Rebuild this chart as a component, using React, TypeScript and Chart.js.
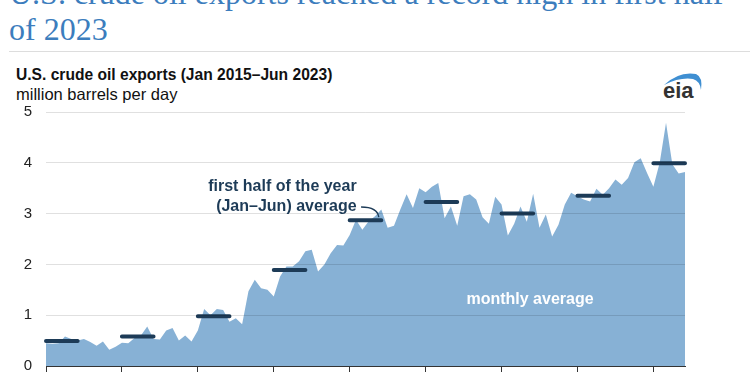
import React, { useEffect, useRef } from "react";
import { Chart, registerables } from "chart.js";

Chart.register(...registerables);

// ---------- data ----------
const YEARS = [2015, 2016, 2017, 2018, 2019, 2020, 2021, 2022, 2023];
const MONTHS = ["Jan", "Feb", "Mar", "Apr", "May", "Jun", "Jul", "Aug", "Sep", "Oct", "Nov", "Dec"];
const MONTHS_IN_LAST_YEAR = 6;

// monthly crude oil exports, million barrels per day (Jan 2015 – Jun 2023)
const EXPORTS_2015 = [0.45, 0.44, 0.45, 0.58, 0.53, 0.5, 0.53, 0.47, 0.4, 0.48, 0.32, 0.38];
const EXPORTS_2016 = [0.46, 0.45, 0.55, 0.6, 0.78, 0.53, 0.52, 0.7, 0.75, 0.5, 0.6, 0.48];
const EXPORTS_2017 = [0.7, 1.12, 1.0, 1.12, 1.1, 0.87, 0.94, 0.82, 1.47, 1.7, 1.53, 1.5];
const EXPORTS_2018 = [1.37, 1.76, 1.96, 1.96, 2.06, 2.26, 2.29, 1.86, 2.0, 2.22, 2.38, 2.37];
const EXPORTS_2019 = [2.58, 2.88, 2.68, 2.85, 2.95, 3.08, 2.72, 2.76, 3.08, 3.38, 3.11, 3.5];
const EXPORTS_2020 = [3.42, 3.53, 3.6, 2.91, 3.14, 2.76, 3.34, 3.38, 3.28, 2.93, 2.8, 3.33];
const EXPORTS_2021 = [3.18, 2.57, 2.8, 3.14, 2.84, 3.39, 2.72, 2.98, 2.55, 2.78, 3.18, 3.41];
const EXPORTS_2022 = [3.34, 3.28, 3.24, 3.49, 3.37, 3.5, 3.67, 3.57, 3.7, 4.01, 4.09, 3.8];
const EXPORTS_2023 = [3.53, 4.0, 4.79, 3.97, 3.79, 3.82];

// first half of the year (Jan–Jun) averages
const FIRST_HALF_AVG = [0.49, 0.58, 0.98, 1.89, 2.87, 3.23, 3.0, 3.35, 3.99];

const Y_TICKS = [0, 1, 2, 3, 4, 5];

const TITLE_LINE1 = "U.S. crude oil exports reached a record high in first half";
const TITLE_LINE2 = "of 2023";
const SUBTITLE = "U.S. crude oil exports (Jan 2015\u2013Jun 2023)";
const UNITS = "million barrels per day";
const NOTE_AVG_1 = "first half of the year";
const NOTE_AVG_2 = "(Jan\u2013Jun) average";
const NOTE_MONTHLY = "monthly average";

// ---------- derived tables ----------
const MONTHLY = [
  ...EXPORTS_2015, ...EXPORTS_2016, ...EXPORTS_2017, ...EXPORTS_2018, ...EXPORTS_2019,
  ...EXPORTS_2020, ...EXPORTS_2021, ...EXPORTS_2022, ...EXPORTS_2023,
];
const LABELS: string[] = [];
YEARS.forEach((yr, yi) => {
  const n = yi === YEARS.length - 1 ? MONTHS_IN_LAST_YEAR : 12;
  for (let m = 0; m < n; m++) LABELS.push(`${MONTHS[m]} ${yr}`);
});
const HALF_SERIES: (number | null)[] = LABELS.map((_, i) => {
  const yi = Math.floor(i / 12);
  return i % 12 < 6 ? FIRST_HALF_AVG[yi] : null;
});

const NAVY = "#1d3b57";
const AREA = "#87b1d5";
const SANS = "'Liberation Sans', Arial, sans-serif";

const annotationPlugin = {
  id: "annotations",
  afterDraw(chart: any) {
    const { ctx } = chart;
    const x = chart.scales.x;
    const y = chart.scales.y;
    ctx.save();
    // first-half label
    ctx.fillStyle = NAVY;
    ctx.font = `bold 16px ${SANS}`;
    ctx.textAlign = "right";
    ctx.textBaseline = "middle";
    const lx = x.getPixelForValue(49.1);
    ctx.fillText(NOTE_AVG_1, lx, y.getPixelForValue(3.54));
    ctx.fillText(NOTE_AVG_2, lx, y.getPixelForValue(3.13));
    // curved pointer
    ctx.strokeStyle = NAVY;
    ctx.lineWidth = 1.3;
    ctx.beginPath();
    ctx.moveTo(x.getPixelForValue(49.8), y.getPixelForValue(3.13));
    ctx.quadraticCurveTo(
      x.getPixelForValue(52.4), y.getPixelForValue(3.13),
      x.getPixelForValue(52.6), y.getPixelForValue(2.93)
    );
    ctx.stroke();
    // monthly label
    ctx.fillStyle = "#ffffff";
    ctx.font = `bold 16px ${SANS}`;
    ctx.textAlign = "center";
    ctx.fillText(NOTE_MONTHLY, x.getPixelForValue(76.5), y.getPixelForValue(1.3));
    ctx.restore();
  },
};

export default function App() {
  const ref = useRef<HTMLCanvasElement | null>(null);

  useEffect(() => {
    if (!ref.current) return;
    const chart = new Chart(ref.current, {
      type: "line",
      data: {
        labels: LABELS,
        datasets: [
          {
            label: "first half average",
            data: HALF_SERIES,
            borderColor: NAVY,
            borderWidth: 4,
            borderCapStyle: "round",
            pointRadius: 0,
            spanGaps: false,
            fill: false,
          },
          {
            label: "monthly",
            data: MONTHLY,
            borderWidth: 0,
            borderColor: AREA,
            backgroundColor: AREA,
            pointRadius: 0,
            tension: 0,
            fill: "origin",
          },
        ],
      },
      options: {
        animation: false,
        responsive: false,
        maintainAspectRatio: false,
        devicePixelRatio: 1,
        layout: { padding: { top: 112, right: 65, left: 0, bottom: 0 } },
        plugins: { legend: { display: false }, tooltip: { enabled: false } },
        scales: {
          x: {
            type: "category",
            offset: false,
            ticks: { display: false, autoSkip: false },
            grid: {
              display: true,
              drawOnChartArea: false,
              drawTicks: true,
              tickLength: 6,
              color: (c: any) => (c.index % 12 === 0 ? "#333333" : "rgba(0,0,0,0)"),
            },
            border: { display: true, color: "#333333", width: 1 },
            afterFit: (s: any) => {
              s.height = 9;
            },
          },
          y: {
            min: Y_TICKS[0],
            max: Y_TICKS[Y_TICKS.length - 1],
            afterBuildTicks: (s: any) => {
              s.ticks = Y_TICKS.map((v) => ({ value: v }));
            },
            ticks: {
              stepSize: 1,
              padding: 0,
              color: "#222222",
              font: { family: SANS, size: 15 },
            },
            grid: {
              z: 1,
              drawTicks: true,
              tickLength: 14,
              tickColor: "rgba(0,0,0,0)",
              color: (c: any) => (c.tick && c.tick.value === 0 ? "rgba(0,0,0,0)" : "rgba(0,0,0,0.12)"),
            },
            border: { display: false },
            afterFit: (s: any) => {
              s.width = 46;
            },
          },
        },
      },
      plugins: [annotationPlugin],
    });
    return () => chart.destroy();
  }, []);

  return (
    <div
      style={{
        position: "absolute",
        left: 0,
        top: 0,
        width: 750,
        height: 375,
        overflow: "hidden",
        background: "#ffffff",
      }}
    >
      <div
        style={{
          position: "absolute",
          left: 9,
          top: -25,
          fontFamily: "'Liberation Serif', 'Times New Roman', serif",
          fontSize: 32,
          lineHeight: "36px",
          color: "#3c7dbd",
          whiteSpace: "nowrap",
        }}
      >
        {TITLE_LINE1}
        <br />
        {TITLE_LINE2}
      </div>
      <div style={{ position: "absolute", left: 9, top: 51, width: 741, height: 1, background: "#dddddd" }} />
      <div
        style={{
          position: "absolute",
          left: 16,
          top: 66,
          fontFamily: SANS,
          color: "#111111",
          whiteSpace: "nowrap",
        }}
      >
        <div style={{ fontWeight: "bold", fontSize: 15.6, lineHeight: "18px" }}>{SUBTITLE}</div>
        <div style={{ fontSize: 16.5, lineHeight: "20px" }}>{UNITS}</div>
      </div>
      <svg
        width="60"
        height="40"
        viewBox="0 0 60 40"
        style={{ position: "absolute", left: 655, top: 68 }}
      >
        <path d="M9 17 Q24 3 41 6 Q48 9 46 22 Q45 13 38 11 Q25 9 9 17 Z" fill="#3f8fd2" />
        <text x="8" y="30" fontFamily={SANS} fontWeight="bold" fontSize="22" fill="#333333">
          eia
        </text>
      </svg>
      <canvas
        ref={ref}
        width={750}
        height={375}
        style={{ position: "absolute", left: 0, top: 0, width: 750, height: 375 }}
      />
    </div>
  );
}
